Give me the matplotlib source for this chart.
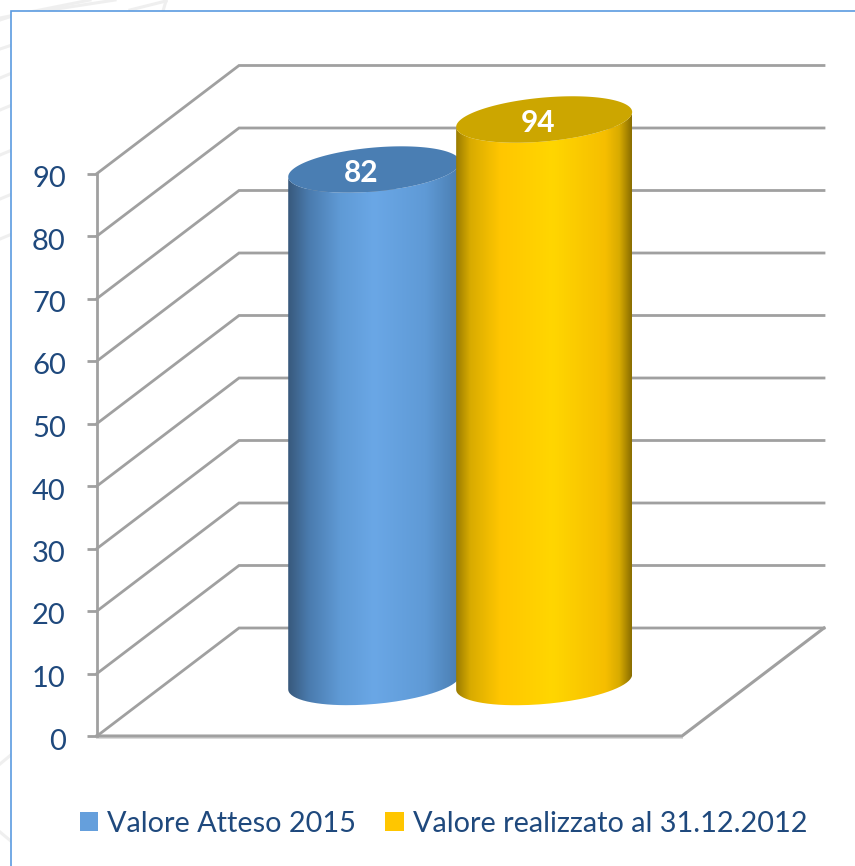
import numpy as np
import matplotlib
matplotlib.use("Agg")
import matplotlib.pyplot as plt
from matplotlib.patches import Patch, PathPatch, Rectangle
from matplotlib.path import Path
from matplotlib.colors import LinearSegmentedColormap
from matplotlib.transforms import ScaledTranslation

# ---- data ----
series_names = ["Valore Atteso 2015", "Valore realizzato al 31.12.2012"]
series_values = [82, 94]
yticks = [0, 10, 20, 30, 40, 50, 60, 70, 80, 90]
axis_max = 90
series_legend = ["#659FDC", "#FFC600"]
series_top = ["#4A7EB3", "#CCA600"]
series_grad = [
    [(0, "#38597C"), (0.12, "#4A7BAE"), (0.3, "#5F9AD5"), (0.5, "#6AA7E6"), (0.8, "#5F9AD6"), (1, "#4A7DB0")],
    [(0, "#9A7C00"), (0.08, "#D8AB00"), (0.25, "#FFC600"), (0.55, "#FFD600"), (0.85, "#F6BE00"), (0.93, "#D8AB00"), (1, "#8A6E00")],
]
series_cx = [0.3525, 0.643]   # bar centres on the floor's front edge
series_a = [86, 88]           # cylinder semi-major axes, pixels
label_dx = [-13, -6]

# ---- layout (figure pixels) ----
W, H = 855, 866
X0, PLOT_W = 97, 585      # front-left corner, floor width
Y0, UNIT = 736, 6.25      # baseline pixel, pixels per value unit
DX, DY = 142, 108         # depth offset of the back wall
K = 0.085                 # ellipse tilt
B = 22                    # semi-minor axis
GRID = "#A0A0A0"
TXT = "#1F497D"

plt.rcParams["font.family"] = ["Lato", "DejaVu Sans"]
fig = plt.figure(figsize=(W / 100, H / 100), dpi=100, facecolor="white")
ax = fig.add_axes([0, 0, 1, 1])
ax.set_xlim(-X0 / PLOT_W, (W - X0) / PLOT_W)
ax.set_ylim((Y0 - H) / UNIT, Y0 / UNIT)
ax.patch.set_alpha(0)
ddx, ddy = DX / PLOT_W, DY / UNIT
sx, sy = 1 / PLOT_W, 1 / UNIT

# faint backdrop outside the frame
for (x1, y1, x2, y2) in [(0, 20, 12, 16), (0, 49, 12, 45), (0, 78, 12, 73), (0, 110, 12, 105),
                         (0, 155, 12, 150), (0, 199, 12, 194), (0, 239, 12, 234),
                         (0, 764, 12, 754), (0, 832, 12, 842), (0, 18, 90, 0),
                         (50, 10, 115, 0), (130, 10, 166, 1), (166, 1, 163, 11)]:
    ax.plot([(x1 - X0) * sx, (x2 - X0) * sx], [(Y0 - y1) * sy, (Y0 - y2) * sy],
            color="#EFEFEF", lw=2.2, zorder=0)
ax.add_patch(Rectangle(((10.5 - X0) * sx, (Y0 - H - 5) * sy), (W + 20) * sx, (H + 5 - 11.5) * sy,
                       facecolor="white", edgecolor="#5B9BE0", lw=1.2, zorder=1))

# walls & floor
for v in yticks:
    ax.plot([0, ddx, ddx + 1], [v, v + ddy, v + ddy], color=GRID, lw=2.0,
            solid_joinstyle="miter", zorder=2)
ax.plot([0, 1, 1 + ddx], [0, 0, ddy], color=GRID, lw=2.2, solid_joinstyle="miter", zorder=2.1)
ax.plot([0, 1], [-0.35, -0.35], color="#DADADA", lw=1.4, zorder=2)

# the value axis
for s in ["top", "right", "bottom"]:
    ax.spines[s].set_visible(False)
ax.spines["left"].set_position(("data", 0))
ax.spines["left"].set_bounds(0, axis_max)
ax.spines["left"].set_color(GRID)
ax.spines["left"].set_linewidth(2.0)
ax.spines["left"].set_zorder(2.2)
ax.set_xticks([])
ax.set_yticks(yticks)
ax.tick_params(axis="y", direction="out", length=7, width=2.0, color=GRID,
               pad=15.5, labelsize=21, labelcolor=TXT)
offset = ScaledTranslation(0, -3 / 100, fig.dpi_scale_trans)
for lab in ax.get_yticklabels():
    lab.set_transform(lab.get_transform() + offset)


def ellipse(cx, cy, a, t):
    return (cx + a * sx * np.cos(t),
            cy + (B * np.sin(t) + a * K * np.cos(t)) * sy)


# cylinders (values above the axis maximum are cut at the maximum, as in the source)
for i, val in enumerate(series_values):
    a = series_a[i]
    cx = series_cx[i] + ddx / 2
    base = ddy / 2
    top = base + min(val, axis_max)
    t_low = np.linspace(np.pi, 2 * np.pi, 80)
    bx, by = ellipse(cx, base, a, t_low)
    tx, ty = ellipse(cx, top, a, t_low[::-1])
    side = Path(np.column_stack([np.r_[bx, tx, bx[0]], np.r_[by, ty, by[0]]]), closed=False)
    patch = PathPatch(side, facecolor="none", edgecolor="none", zorder=3 + i)
    ax.add_patch(patch)
    cmap = LinearSegmentedColormap.from_list(f"c{i}", series_grad[i])
    im = ax.imshow(np.linspace(0, 1, 256)[None, :], cmap=cmap, aspect="auto",
                   extent=(cx - a * sx, cx + a * sx, base - 10, top + 10),
                   zorder=3 + i, interpolation="bilinear")
    im.set_clip_path(patch)
    tt = np.linspace(0, 2 * np.pi, 160)
    ex, ey = ellipse(cx, top, a, tt)
    ax.fill(ex, ey, color=series_top[i], lw=0, zorder=3 + i + 0.1)
    ax.text(cx + label_dx[i] * sx, top - 0.6, str(val), color="white", fontsize=21.5, fontweight="bold",
            ha="center", va="center", zorder=6)

ax.set_xlim(-X0 / PLOT_W, (W - X0) / PLOT_W)
ax.set_ylim((Y0 - H) / UNIT, Y0 / UNIT)

handles = [Patch(facecolor=c, edgecolor="none", label=n) for c, n in zip(series_legend, series_names)]
leg = ax.legend(handles=handles, ncol=2, frameon=False, loc="center",
                bbox_to_anchor=(443.5 / W, 1 - 823.5 / H), fontsize=20.8, labelcolor=TXT,
                handlelength=0.64, handleheight=0.64, handletextpad=0.31, columnspacing=1.0,
                borderpad=0, borderaxespad=0)

fig.savefig("out.png", dpi=100, facecolor="white")
